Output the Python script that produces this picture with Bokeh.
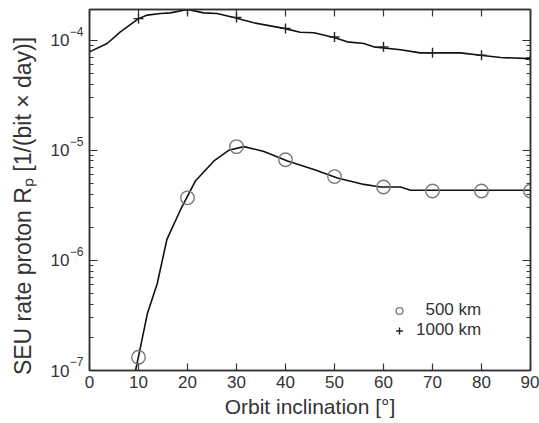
from bokeh.plotting import figure
from bokeh.embed import file_html
from bokeh.resources import INLINE
from bokeh.models import (LinearAxis, LogAxis, FixedTicker, CustomJSTickFormatter,
                          Legend, LegendItem, Range1d)

# ---- data ----
incl_markers = [10, 20, 30, 40, 50, 60, 70, 80, 90]
rate_500_markers = [1.32e-7, 3.7e-6, 1.08e-5, 8.2e-6, 5.77e-6, 4.64e-6, 4.27e-6, 4.27e-6, 4.27e-6]
rate_1000_markers = [1.57e-4, 1.90e-4, 1.61e-4, 1.28e-4, 1.07e-4, 8.7e-5, 7.7e-5, 7.3e-5, 6.7e-5]

curve_500_x = [9.4, 10.4, 11.8, 13.8, 15.8, 18.6, 21.6, 25.4, 28.4, 31.5, 35.6, 40.4,
               45.8, 50.6, 56.0, 59.4, 63.5, 65.5, 90.0]
curve_500_y = [1.0e-7, 1.63e-7, 3.27e-7, 6.1e-7, 1.55e-6, 2.9e-6, 5.26e-6, 8.0e-6, 1.0e-5,
               1.08e-5, 9.77e-6, 8.0e-6, 6.7e-6, 5.6e-6, 4.9e-6, 4.64e-6, 4.64e-6, 4.33e-6, 4.33e-6]

curve_1000_x = [0.0, 3.6, 6.3, 10.0, 11.8, 14.5, 16.5, 20.0, 23.3, 26.0, 29.5, 33.5, 39.7,
                43.0, 45.8, 49.9, 52.6, 56.0, 58.0, 63.5, 67.5, 75.7, 79.8, 83.9, 90.0]
curve_1000_y = [7.83e-5, 9.33e-5, 1.19e-4, 1.57e-4, 1.69e-4, 1.75e-4, 1.77e-4, 1.90e-4,
                1.77e-4, 1.75e-4, 1.61e-4, 1.44e-4, 1.28e-4, 1.18e-4, 1.17e-4, 1.06e-4,
                9.66e-5, 9.33e-5, 8.7e-5, 8.2e-5, 7.67e-5, 7.67e-5, 7.3e-5, 6.96e-5, 6.8e-5]

x_ticks = [0, 10, 20, 30, 40, 50, 60, 70, 80, 90]
y_ticks = [1e-7, 1e-6, 1e-5, 1e-4]
y_mantissa = ["10", "10", "10", "10"]
y_exponents = ["\u22127", "\u22126", "\u22125", "\u22124"]
y_minor = [m * 10.0 ** e for e in range(-8, -3) for m in range(2, 10)]

FONT = "Liberation Sans"
TXT = "#333333"
AX = "#333333"

p = figure(width=539, height=423, y_axis_type="log",
           x_range=Range1d(0, 90), y_range=Range1d(1e-7, 1.9e-4),
           output_backend="svg", toolbar_location=None,
           min_border_left=89, min_border_right=9, min_border_top=9, min_border_bottom=53)
p.grid.visible = False
p.outline_line_color = AX
p.outline_line_width = 1.5
p.background_fill_color = "white"
p.border_fill_color = "white"

# curves
p.line(curve_1000_x, curve_1000_y, line_color="#111111", line_width=1.6)
p.line(curve_500_x, curve_500_y, line_color="#111111", line_width=1.6)

r500 = p.scatter(incl_markers, rate_500_markers, marker="circle", size=13.5,
                 fill_color=None, line_color="#7a7a7a", line_width=1.4)
r1000 = p.scatter(incl_markers, rate_1000_markers, marker="cross", size=10,
                  line_color="#222222", line_width=1.4)

def style_axis(ax):
    ax.axis_line_color = AX
    ax.axis_line_width = 1.5
    ax.major_tick_line_color = AX
    ax.minor_tick_line_color = AX
    ax.major_tick_line_width = 1.2
    ax.minor_tick_line_width = 1.0
    ax.major_tick_out = 0
    ax.minor_tick_out = 0
    ax.major_label_text_font = FONT
    ax.major_label_text_color = TXT
    ax.axis_label_text_font = FONT
    ax.axis_label_text_color = TXT
    ax.axis_label_text_font_style = "normal"

def lookup(labels, suffix=""):
    return CustomJSTickFormatter(args=dict(tvals=y_ticks, tlabels=labels, sfx=suffix), code="""
let best = 0, bd = Infinity;
for (let i = 0; i < tvals.length; i++) {
  const d = Math.abs(Math.log10(tvals[i]) - Math.log10(tick));
  if (d < bd) { bd = d; best = i; }
}
return tlabels[best] + sfx;
""")

# bottom x axis
xa = p.xaxis[0]
xa.ticker = FixedTicker(ticks=x_ticks)
style_axis(xa)
xa.major_tick_in = 7
xa.minor_tick_in = 0
xa.major_label_text_font_size = "17px"
xa.major_label_standoff = 5
xa.axis_label = "Orbit inclination [\u00b0]"
xa.axis_label_text_font_size = "21px"
xa.axis_label_standoff = 4

# inner left axis: ticks + exponents (raised by an empty second line)
ya = p.yaxis[0]
ya.ticker = FixedTicker(ticks=y_ticks, minor_ticks=y_minor)
ya.formatter = lookup(y_exponents, "\n")
style_axis(ya)
ya.major_tick_in = 8
ya.minor_tick_in = 4
ya.major_label_text_font_size = "12px"
ya.major_label_standoff = 6

# outer left axis: mantissa "10" + axis title
ya2 = LogAxis(ticker=FixedTicker(ticks=y_ticks), formatter=lookup(y_mantissa))
style_axis(ya2)
ya2.axis_line_color = None
ya2.major_tick_line_color = None
ya2.minor_tick_line_color = None
ya2.major_tick_in = 0
ya2.minor_tick_in = 0
ya2.major_label_text_font_size = "17px"
ya2.major_label_standoff = -3
ya2.axis_label = "SEU rate proton R\u209a [1/(bit \u00d7 day)]\u00a0\u00a0\u00a0\u00a0\u00a0"
ya2.axis_label_text_font_size = "23px"
ya2.axis_label_standoff = 12
p.add_layout(ya2, "left")

# top axis (ticks only)
blank = CustomJSTickFormatter(code='return "";')
ta = LinearAxis(ticker=FixedTicker(ticks=x_ticks), formatter=blank)
style_axis(ta)
ta.major_tick_in = 7
ta.minor_tick_in = 0
ta.major_label_text_font_size = "1px"
ta.major_label_standoff = 0
p.add_layout(ta, "above")

# right axis (ticks only)
ra = LogAxis(ticker=FixedTicker(ticks=y_ticks, minor_ticks=y_minor), formatter=blank)
style_axis(ra)
ra.major_tick_in = 8
ra.minor_tick_in = 4
ra.major_label_text_font_size = "1px"
ra.major_label_standoff = 0
p.add_layout(ra, "right")

legend = Legend(items=[LegendItem(label="\u2007500 km", renderers=[r500]),
                       LegendItem(label="1000 km", renderers=[r1000])],
                location=(300, 30), padding=0, margin=0, spacing=0,
                glyph_width=20, glyph_height=17, label_height=17, label_standoff=7,
                label_text_font=FONT, label_text_font_size="17px", label_text_color=TXT,
                border_line_alpha=0, background_fill_alpha=0)
p.add_layout(legend)

open("out.html", "w").write(file_html(p, INLINE))
